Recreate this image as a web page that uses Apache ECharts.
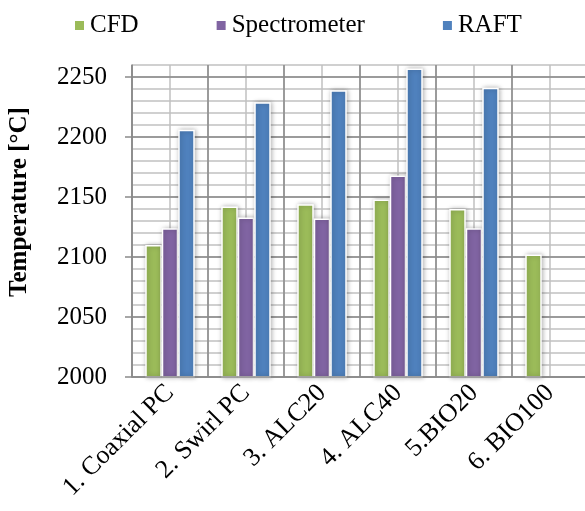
<!DOCTYPE html>
<html>
<head>
<meta charset="utf-8">
<script src="https://cdn.jsdelivr.net/npm/echarts@6/dist/echarts.min.js"></script>
<style>
  html, body { margin: 0; padding: 0; background: #fff; }
  #main { width: 585px; height: 511px; }
</style>
</head>
<body>
<div id="main"></div>
<script>
// categories (last one is the empty slot the plot runs into)
var categories = ['1. Coaxial PC', '2. Swirl PC', '3. ALC20', '4. ALC40', '5.BIO20', '6. BIO100', '']
var cfd = [2110, 2142, 2144, 2148, 2140, 2102, null]
var spectrometer = [2124, 2133, 2132, 2168, 2124, null, null]
var raft = [2206, 2229, 2239, 2257, 2241, null, null]
var yTicks = [2000, 2050, 2100, 2150, 2200, 2250]
var yMin = 2000
var yMax = 2260

var font = 'Liberation Serif, Times New Roman, serif'
var dark = '#8a8a8a'
var light = '#c0c0c0'

var chart = echarts.init(document.getElementById('main'))

function barSeries (name, color, data) {
  return {
    name: name,
    type: 'bar',
    xAxisIndex: 0,
    yAxisIndex: 1,
    barWidth: 16.5,
    barGap: '0%',
    itemStyle: {
      color: color,
      borderColor: '#fff',
      borderWidth: 1.5,
      shadowColor: 'rgba(0, 0, 0, 0.3)',
      shadowBlur: 5,
      shadowOffsetX: 1
    },
    data: data
  }
}

// major lines dark, the top border (max) light
var majorColors = yTicks.map(function () { return dark }).concat([light])

var options = {
  animation: false,
  legend: {
    left: 68,
    top: 8,
    itemWidth: 11,
    itemHeight: 11,
    itemGap: 76,
    icon: 'rect',
    textStyle: { fontFamily: font, fontSize: 25, color: '#000' },
    data: ['CFD', 'Spectrometer', 'RAFT']
  },
  grid: {
    left: 132,
    top: 65,
    bottom: 134,
    width: 532,
    containLabel: false,
    outerBoundsMode: 'none'
  },
  xAxis: [{
    type: 'category',
    data: categories,
    boundaryGap: true,
    axisLine: { lineStyle: { color: dark, width: 1.5 } },
    axisTick: { length: 7, lineStyle: { color: dark, width: 1.5 } },
    axisLabel: {
      rotate: 45,
      interval: 0,
      margin: 12,
      fontFamily: font,
      fontSize: 26,
      color: '#000'
    },
    splitLine: { show: true, lineStyle: { color: dark, width: 1.5 } },
    z: 3
  }, {
    // half-category lines
    type: 'value',
    min: 0,
    max: 14,
    interval: 1,
    position: 'bottom',
    axisLine: { show: false },
    axisTick: { show: false },
    axisLabel: { show: false },
    splitLine: { show: true, lineStyle: { color: light, width: 1.5 } },
    z: 1
  }],
  yAxis: [{
    // minor lines every 10
    type: 'value',
    min: yMin,
    max: yMax,
    interval: 10,
    position: 'left',
    axisLine: { show: false },
    axisTick: { show: false },
    axisLabel: { show: false },
    splitLine: { show: true, lineStyle: { color: light, width: 1.5 } },
    z: 1
  }, {
    type: 'value',
    min: yMin,
    max: yMax,
    interval: 50,
    position: 'left',
    name: 'Temperature [°C]',
    nameLocation: 'middle',
    nameGap: 100,
    nameTextStyle: {
      fontFamily: font,
      fontSize: 25,
      fontWeight: 'bold',
      color: '#000',
      padding: [0, 0, 0, 38]
    },
    axisLine: { show: true, lineStyle: { color: dark, width: 1.5 } },
    axisTick: {
      show: true,
      length: 7,
      customValues: yTicks,
      lineStyle: { color: dark, width: 1.5 }
    },
    axisLabel: {
      margin: 25,
      fontFamily: font,
      fontSize: 25,
      color: '#000',
      customValues: yTicks,
      formatter: function (v) { return String(v) }
    },
    splitLine: { show: true, lineStyle: { color: majorColors, width: 1.5 } },
    z: 2
  }],
  series: [
    barSeries('CFD', '#9BBB59', cfd),
    barSeries('Spectrometer', '#8064A2', spectrometer),
    barSeries('RAFT', '#4F81BD', raft)
  ]
}

chart.setOption(options)
window.addEventListener('resize', function () {
  chart.resize()
})
</script>
</body>
</html>
